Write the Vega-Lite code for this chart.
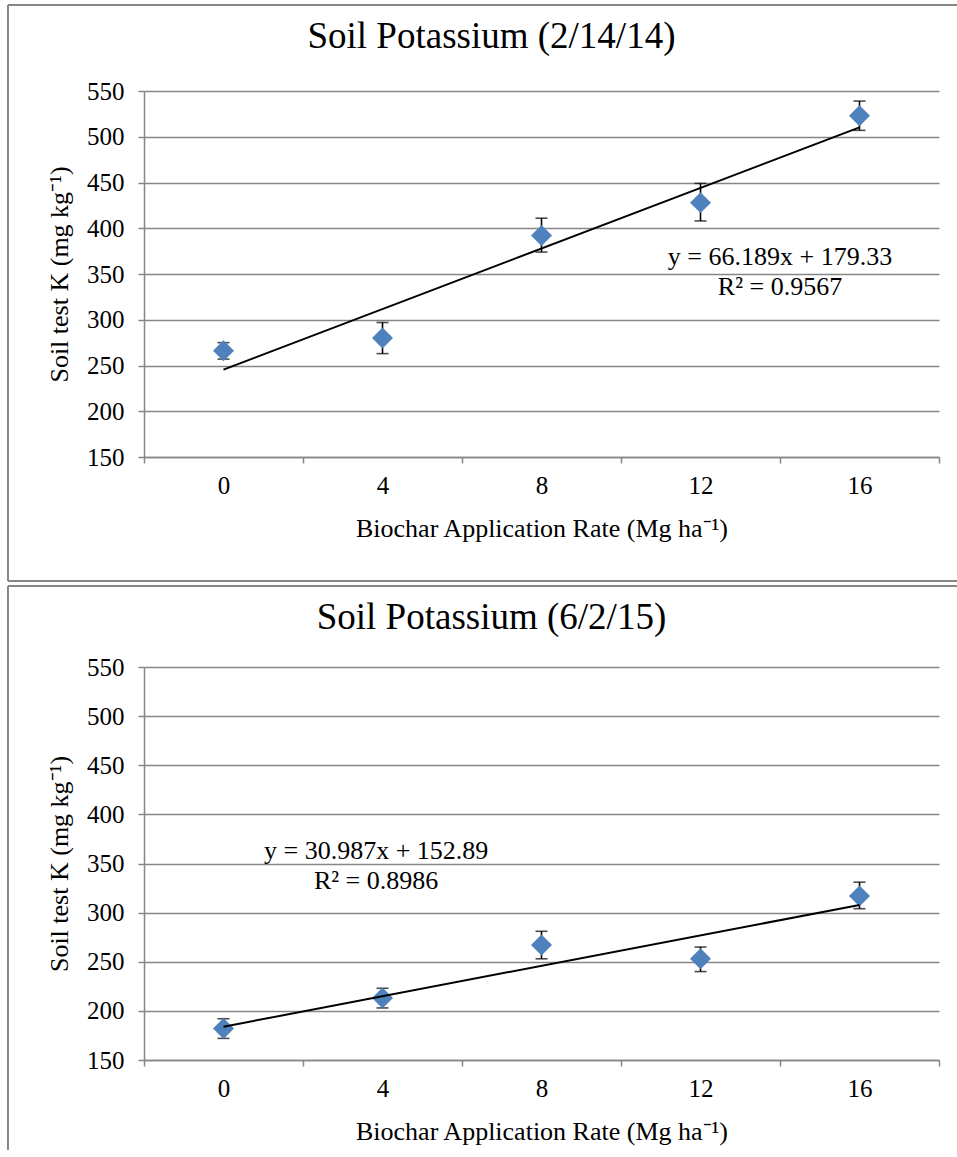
{
  "$schema": "https://vega.github.io/schema/vega-lite/v6.json",
  "background": "white",
  "padding": {"left": 6, "top": 3, "right": 0, "bottom": 0},
  "spacing": 2,
  "datasets": {
    "k2014": [
      {"rate": "0", "k": 266, "lo": 257, "hi": 275},
      {"rate": "4", "k": 280, "lo": 263, "hi": 297},
      {"rate": "8", "k": 392, "lo": 374, "hi": 411},
      {"rate": "12", "k": 428, "lo": 408, "hi": 449},
      {"rate": "16", "k": 523, "lo": 507, "hi": 539}
    ],
    "trend2014": [
      {"rate": "0", "fit": 245.5},
      {"rate": "16", "fit": 510.3}
    ],
    "k2015": [
      {"rate": "0", "k": 182, "lo": 172, "hi": 192},
      {"rate": "4", "k": 213, "lo": 203, "hi": 223},
      {"rate": "8", "k": 267, "lo": 253, "hi": 281},
      {"rate": "12", "k": 253, "lo": 240, "hi": 265},
      {"rate": "16", "k": 317, "lo": 304, "hi": 331}
    ],
    "trend2015": [
      {"rate": "0", "fit": 183.9},
      {"rate": "16", "fit": 307.8}
    ]
  },
  "vconcat": [
    {
      "width": 795,
      "height": 366,
      "title": {"text": "Soil Potassium (2/14/14)", "offset": -52, "dx": 9, "font": "Liberation Serif", "fontSize": 37, "fontWeight": "normal"},
      "layer": [
        {
          "data": {"values": [{}]},
          "layer": [
            {
              "mark": {"type": "rule", "stroke": "#868686", "strokeWidth": 2},
              "encoding": {
                "x": {"datum": -0.1711, "type": "quantitative", "scale": {"domain": [0, 1], "nice": false, "zero": false}, "axis": null},
                "x2": {"datum": 1.0226},
                "y": {"datum": 1.235, "type": "quantitative", "scale": {"domain": [0, 1], "nice": false, "zero": false}, "axis": null}
              }
            },
            {
              "mark": {"type": "rule", "stroke": "#868686", "strokeWidth": 2},
              "encoding": {
                "x": {"datum": -0.1711, "type": "quantitative"},
                "x2": {"datum": 1.0226},
                "y": {"datum": -0.3388, "type": "quantitative"}
              }
            },
            {
              "mark": {"type": "rule", "stroke": "#868686", "strokeWidth": 2},
              "encoding": {
                "x": {"datum": -0.1711, "type": "quantitative"},
                "y": {"datum": -0.3388, "type": "quantitative"},
                "y2": {"datum": 1.235}
              }
            }
          ]
        },
        {
          "layer": [
            {
              "data": {"name": "k2014"},
              "mark": {"type": "errorbar", "color": "black", "ticks": {"size": 12, "color": "black", "thickness": 1.6}, "rule": {"strokeWidth": 1.6}},
              "encoding": {
                "x": {"field": "rate", "type": "ordinal"},
                "y": {"field": "lo", "type": "quantitative"},
                "y2": {"field": "hi"}
              }
            },
            {
              "data": {"name": "k2014"},
              "mark": {"type": "point", "shape": "diamond", "filled": true, "size": 440, "color": "#4F81BD", "opacity": 1},
              "encoding": {
                "x": {"field": "rate", "type": "ordinal"},
                "y": {"field": "k", "type": "quantitative"}
              }
            },
            {
              "data": {"name": "trend2014"},
              "mark": {"type": "line", "color": "black", "strokeWidth": 2},
              "encoding": {
                "x": {"field": "rate", "type": "ordinal"},
                "y": {"field": "fit", "type": "quantitative"}
              }
            },
            {
              "data": {"values": [{}]},
              "mark": {"type": "text", "text": ["y = 66.189x + 179.33", "R² = 0.9567"], "lineHeight": 30, "font": "Liberation Serif", "fontSize": 26, "align": "center", "baseline": "middle", "color": "black"},
              "encoding": {
                "x": {"datum": "12", "type": "ordinal", "bandPosition": 1},
                "y": {"datum": 369, "type": "quantitative"}
              }
            }
          ],
          "encoding": {
            "x": {
              "type": "ordinal",
              "scale": {"type": "band", "domain": ["0", "4", "8", "12", "16"], "paddingInner": 0, "paddingOuter": 0},
              "axis": {"orient": "bottom", "title": "Biochar Application Rate (Mg ha⁻¹)", "tickBand": "extent", "grid": false, "labelAngle": 0, "labelPadding": 10, "titlePadding": 17, "labelFont": "Liberation Serif", "titleFont": "Liberation Serif"}
            },
            "y": {
              "type": "quantitative",
              "scale": {"domain": [150, 550], "nice": false, "zero": false},
              "axis": {"orient": "left", "title": "Soil test K (mg kg⁻¹)", "values": [150, 200, 250, 300, 350, 400, 450, 500, 550], "grid": true, "labelPadding": 14, "titlePadding": 14, "labelFont": "Liberation Serif", "titleFont": "Liberation Serif"}
            }
          }
        }
      ],
      "resolve": {"scale": {"x": "independent", "y": "independent"}}
    },
    {
      "width": 795,
      "height": 393,
      "title": {"text": "Soil Potassium (6/2/15)", "offset": -52, "dx": 9, "font": "Liberation Serif", "fontSize": 37, "fontWeight": "normal"},
      "layer": [
        {
          "data": {"values": [{}]},
          "layer": [
            {
              "mark": {"type": "rule", "stroke": "#868686", "strokeWidth": 2},
              "encoding": {
                "x": {"datum": -0.1711, "type": "quantitative", "scale": {"domain": [0, 1], "nice": false, "zero": false}, "axis": null},
                "x2": {"datum": 1.0226},
                "y": {"datum": 1.2061, "type": "quantitative", "scale": {"domain": [0, 1], "nice": false, "zero": false}, "axis": null}
              }
            },
            {
              "mark": {"type": "rule", "stroke": "#868686", "strokeWidth": 2},
              "encoding": {
                "x": {"datum": -0.1711, "type": "quantitative"},
                "y": {"datum": -0.229, "type": "quantitative"},
                "y2": {"datum": 1.2061}
              }
            }
          ]
        },
        {
          "layer": [
            {
              "data": {"name": "k2015"},
              "mark": {"type": "errorbar", "color": "black", "ticks": {"size": 12, "color": "black", "thickness": 1.6}, "rule": {"strokeWidth": 1.6}},
              "encoding": {
                "x": {"field": "rate", "type": "ordinal"},
                "y": {"field": "lo", "type": "quantitative"},
                "y2": {"field": "hi"}
              }
            },
            {
              "data": {"name": "k2015"},
              "mark": {"type": "point", "shape": "diamond", "filled": true, "size": 440, "color": "#4F81BD", "opacity": 1},
              "encoding": {
                "x": {"field": "rate", "type": "ordinal"},
                "y": {"field": "k", "type": "quantitative"}
              }
            },
            {
              "data": {"name": "trend2015"},
              "mark": {"type": "line", "color": "black", "strokeWidth": 2},
              "encoding": {
                "x": {"field": "rate", "type": "ordinal"},
                "y": {"field": "fit", "type": "quantitative"}
              }
            },
            {
              "data": {"values": [{}]},
              "mark": {"type": "text", "text": ["y = 30.987x + 152.89", "R² = 0.8986"], "lineHeight": 30, "font": "Liberation Serif", "fontSize": 26, "align": "center", "baseline": "middle", "color": "black"},
              "encoding": {
                "x": {"datum": "4", "type": "ordinal", "bandPosition": 0.46},
                "y": {"datum": 362.5, "type": "quantitative"}
              }
            }
          ],
          "encoding": {
            "x": {
              "type": "ordinal",
              "scale": {"type": "band", "domain": ["0", "4", "8", "12", "16"], "paddingInner": 0, "paddingOuter": 0},
              "axis": {"orient": "bottom", "title": "Biochar Application Rate (Mg ha⁻¹)", "tickBand": "extent", "grid": false, "labelAngle": 0, "labelPadding": 10, "titlePadding": 17, "labelFont": "Liberation Serif", "titleFont": "Liberation Serif"}
            },
            "y": {
              "type": "quantitative",
              "scale": {"domain": [150, 550], "nice": false, "zero": false},
              "axis": {"orient": "left", "title": "Soil test K (mg kg⁻¹)", "values": [150, 200, 250, 300, 350, 400, 450, 500, 550], "grid": true, "labelPadding": 14, "titlePadding": 14, "labelFont": "Liberation Serif", "titleFont": "Liberation Serif"}
            }
          }
        }
      ],
      "resolve": {"scale": {"x": "independent", "y": "independent"}}
    }
  ],
  "config": {
    "view": {"stroke": null},
    "font": "Liberation Serif",
    "title": {"font": "Liberation Serif", "fontSize": 37, "fontWeight": "normal", "color": "black", "anchor": "middle", "frame": "bounds"},
    "axis": {
      "labelFont": "Liberation Serif", "labelFontSize": 25, "labelColor": "black",
      "titleFont": "Liberation Serif", "titleFontSize": 26, "titleFontWeight": "normal", "titleColor": "black",
      "domainColor": "#868686", "domainWidth": 1.5, "tickColor": "#868686", "tickWidth": 1.5, "tickSize": 6,
      "gridColor": "#868686", "gridWidth": 1.5
    }
  }
}
